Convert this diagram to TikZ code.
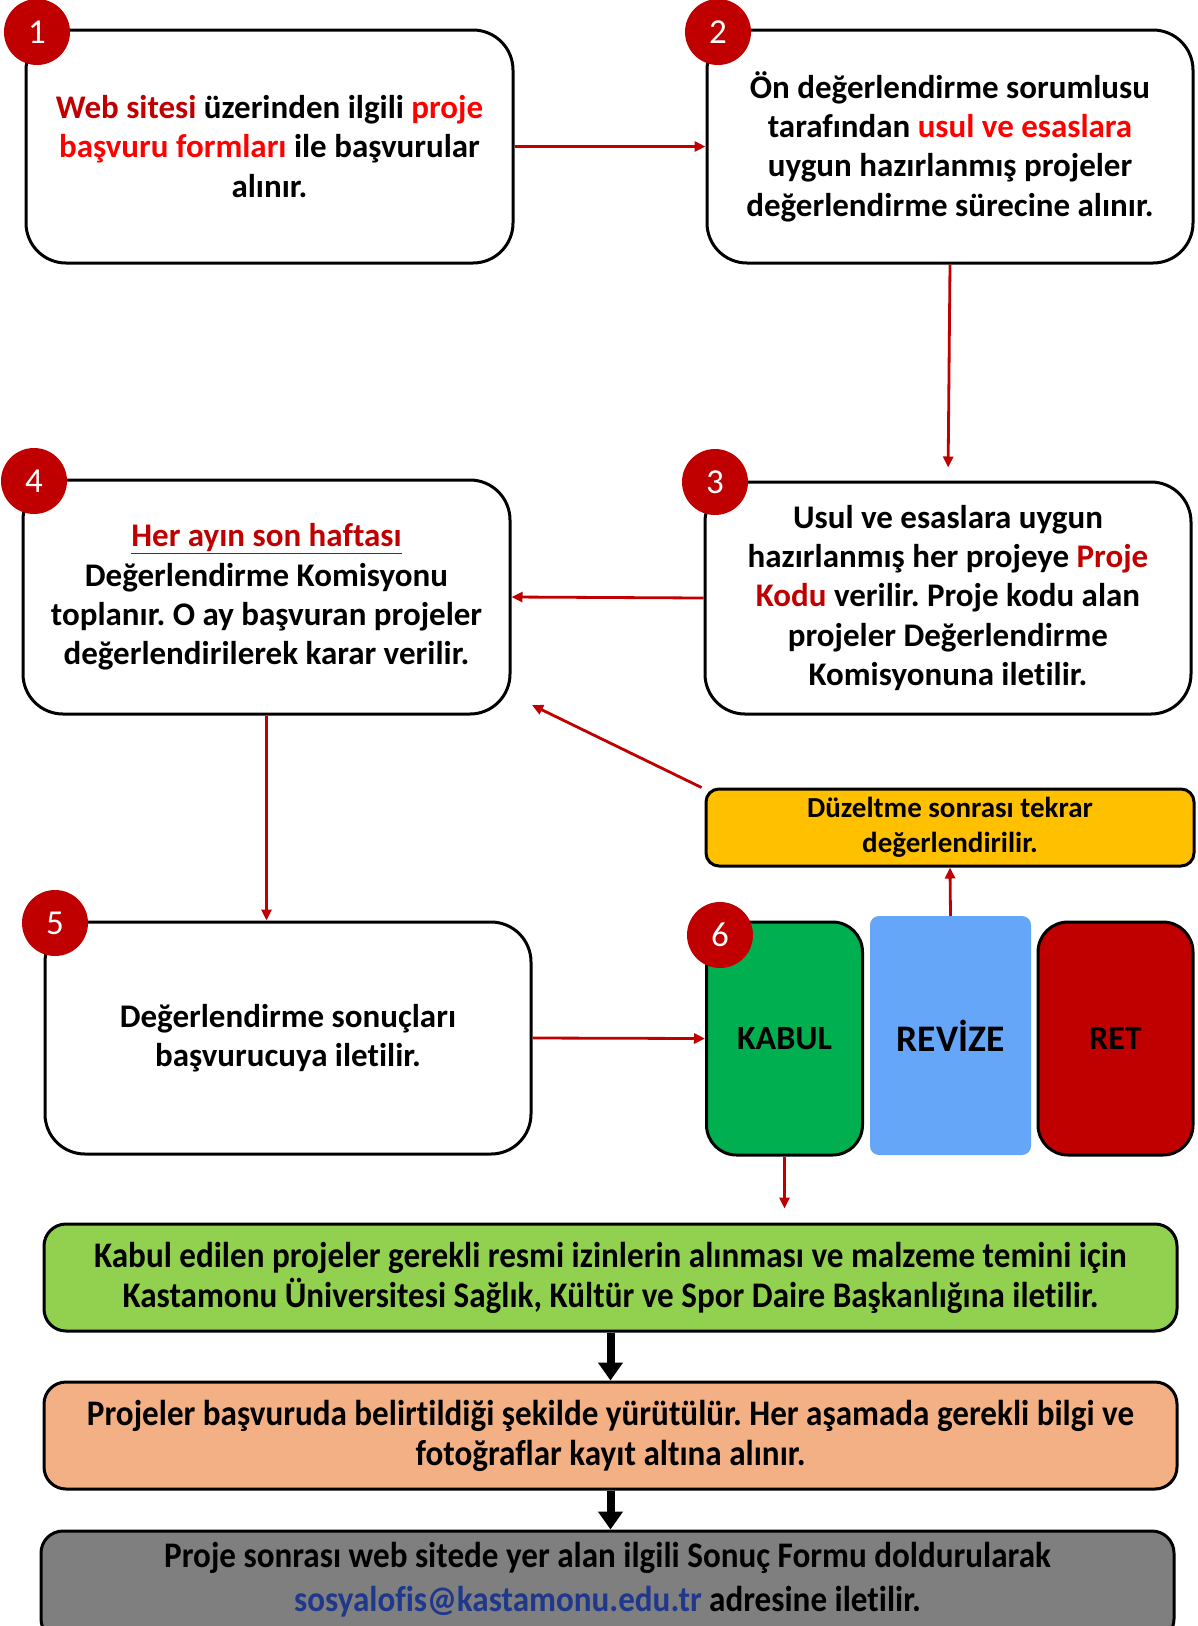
\documentclass[tikz,border=0pt]{standalone}
\usepackage{fontspec}
\setmainfont{Carlito}[Ligatures=NoCommon,RawFeature={-liga;-clig;-calt;-dlig}]
\newfontfamily\condfont{Carlito}[FakeStretch=0.92,Ligatures=NoCommon,RawFeature={-liga;-clig;-calt;-dlig}]
\usetikzlibrary{arrows.meta}
\frenchspacing
\definecolor{dred}{HTML}{C00000}
\definecolor{bred}{HTML}{FF0000}
\definecolor{yel}{HTML}{FFC000}
\definecolor{kgreen}{HTML}{00B050}
\definecolor{rblue}{HTML}{66A6F9}
\definecolor{lgreen}{HTML}{92D050}
\definecolor{peach}{HTML}{F2B084}
\definecolor{gbox}{HTML}{7F7F7F}
\definecolor{mail}{RGB}{31,56,140}
\newcommand{\thickul}[1]{\tikz[baseline=(u.base)]\node[inner sep=0pt,outer sep=0pt] (u) {#1}
  [draw=dred,line width=2.2pt] ([yshift=-3pt]u.base west) -- ([yshift=-3pt]u.base east);}
\tikzset{
  bigbox/.style={draw=black,line width=3pt,rounded corners=40pt,fill=white,align=center,
    font=\fontsize{33}{39.4}\selectfont\bfseries,inner sep=0pt},
  widebox/.style={draw=black,line width=3pt,rounded corners=22pt,align=center,
    font=\condfont\fontsize{36}{40}\selectfont\bfseries,inner sep=0pt},
  numc/.style={circle,fill=dred,minimum size=66pt,inner sep=0pt,text=white,
    font=\fontsize{35}{35}\selectfont},
  redarr/.style={draw=dred,line width=2.8pt,-{Triangle[length=11pt,width=10pt]}},
  blkarr/.style={draw=black,line width=8pt,-{Triangle[length=18pt,width=24pt]}}
}
\begin{document}
\begin{tikzpicture}[x=1pt,y=-1pt]
\useasboundingbox (0,0) rectangle (1198,1626);
\fill[white] (0,0) rectangle (1198,1626);
% box 1
\node[bigbox,minimum width=487pt,minimum height=233pt] (b1) at (269.5,146.5)
 {\textcolor{dred}{Web sitesi} üzerinden ilgili \textcolor{bred}{proje}\\
  \textcolor{bred}{başvuru formları} ile başvurular\\ alınır.};
% box 2
\node[bigbox,minimum width=486pt,minimum height=233pt] (b2) at (950,146.5)
 {Ön değerlendirme sorumlusu\\ tarafından \textcolor{bred}{usul ve esaslara}\\
  uygun hazırlanmış projeler\\ değerlendirme sürecine alınır.};
% box 3
\node[bigbox,minimum width=486pt,minimum height=232pt] (b3) at (948,598)
 {Usul ve esaslara uygun\\ hazırlanmış her projeye \textcolor{dred}{Proje}\\
  \textcolor{dred}{Kodu} verilir. Proje kodu alan\\ projeler Değerlendirme\\ Komisyonuna iletilir.};
% box 4
\node[bigbox,minimum width=487pt,minimum height=234pt] (b4) at (266.5,597)
 {\textcolor{dred}{\underline{Her ayın son haftası}}\\ Değerlendirme Komisyonu\\
  toplanır. O ay başvuran projeler\\ değerlendirilerek karar verilir.};
% yellow
\node[draw=black,line width=3pt,rounded corners=13pt,fill=yel,align=center,inner sep=0pt,
  minimum width=488pt,minimum height=77pt,font=\fontsize{29}{35}\selectfont\bfseries] (yl) at (950,827.5)
 {Düzeltme sonrası tekrar\\ değerlendirilir.};
% box 5
\node[bigbox,minimum width=486pt,minimum height=232pt] (b5) at (288,1038)
 {Değerlendirme sonuçları\\ başvurucuya iletilir.};
% kabul / revize / ret
\node[draw=black,line width=3pt,rounded corners=30pt,fill=kgreen,inner sep=0pt,
  minimum width=156pt,minimum height=233pt,font=\fontsize{34}{34}\selectfont\bfseries] (kab) at (784.5,1038.5) {KABUL};
\node[rounded corners=9pt,fill=rblue,inner sep=0pt,
  minimum width=161pt,minimum height=239pt,font=\fontsize{37.5}{37.5}\selectfont\bfseries] (rev) at (950.5,1035.5) {REVİZE};
\node[draw=black,line width=3pt,rounded corners=30pt,fill=dred,inner sep=0pt,
  minimum width=155pt,minimum height=233pt,font=\fontsize{34}{34}\selectfont\bfseries] (ret) at (1115.5,1038.5) {RET};
% bottom boxes
\node[widebox,fill=lgreen,minimum width=1133pt,minimum height=107pt] (gr) at (610.5,1277.5)
 {Kabul edilen projeler gerekli resmi izinlerin alınması ve malzeme temini için\\
  Kastamonu Üniversitesi Sağlık, Kültür ve Spor Daire Başkanlığına iletilir.};
\node[widebox,fill=peach,minimum width=1133pt,minimum height=107pt] (or) at (610.5,1435.5)
 {Projeler başvuruda belirtildiği şekilde yürütülür. Her aşamada gerekli bilgi ve\\
  fotoğraflar kayıt altına alınır.};
\node[draw=black,line width=3pt,rounded corners=22pt,fill=gbox,inner sep=0pt,
  minimum width=1133pt,minimum height=110pt] (gy) at (607.5,1586) {};
\node[align=center,font=\condfont\fontsize{36}{44}\selectfont\bfseries,inner sep=0pt] (gyt) at (607.5,1580)
 {Proje sonrası web sitede yer alan ilgili Sonuç Formu doldurularak\\
  \textcolor{mail}{sosyalofis@kastamonu.edu.tr} adresine iletilir.};
% number circles
\node[numc] (n1) at (37,32) {1};
\node[numc] (n2) at (718,32) {2};
\node[numc] (n3) at (715,482) {3};
\node[numc] (n4) at (34,481) {4};
\node[numc] (n5) at (55,923) {5};
\node[numc] (n6) at (720,935) {6};
% connectors
\coordinate (yt) at (532,705);
\draw[redarr] (b1.east) -- (b2.west);
\draw[redarr,shorten >=13pt] (b2.south) -- (b3.north);
\draw[redarr] (b3.west) -- (b4.east);
\draw[redarr] ([xshift=-3pt]yl.north west) -- (yt);
\draw[redarr] (rev.north) -- (yl.south);
\draw[redarr] (b4.south) -- (b4.south |- b5.north);
\draw[redarr] (b5.east) -- (kab.west);
\draw[redarr,shorten >=14pt] (kab.south) -- (kab.south |- gr.north);
\draw[blkarr] (gr.south) -- (or.north);
\draw[blkarr] (or.south) -- (or.south |- gy.north);
\end{tikzpicture}
\end{document}
